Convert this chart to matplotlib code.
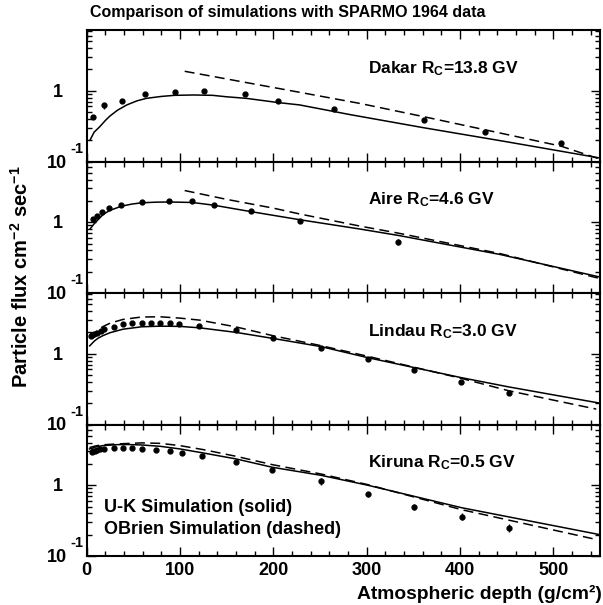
import matplotlib
matplotlib.use("Agg")
import matplotlib.pyplot as plt
from matplotlib.ticker import MultipleLocator, FixedLocator, LogLocator, NullFormatter

plt.rcParams['font.family'] = ['Liberation Sans', 'DejaVu Sans']
plt.rcParams['font.weight'] = 'bold'
plt.rcParams['mathtext.fontset'] = 'custom'
plt.rcParams['mathtext.rm'] = 'Liberation Sans:bold'
plt.rcParams['mathtext.bf'] = 'Liberation Sans:bold'
plt.rcParams['mathtext.it'] = 'Liberation Sans:bold'
plt.rcParams['mathtext.default'] = 'bf'

# --- SPARMO 1964 data points (depth g/cm2, flux) ---
depth_dakar = [7, 19, 38, 62, 95, 126, 170, 205, 265, 361, 427, 508]
flux_dakar = [0.43, 0.62, 0.72, 0.90, 0.96, 1.00, 0.91, 0.71, 0.56, 0.39, 0.26, 0.18]
err_dakar = [0.03, 0.06, 0.03, 0.03, 0.03, 0.03, 0.03, 0.03, 0.03, 0.02, 0.015, 0.015]

depth_aire = [6.4, 10.7, 16, 24, 37, 59, 88, 113, 136, 176, 229, 334]
flux_aire = [1.11, 1.23, 1.40, 1.61, 1.77, 1.94, 1.98, 1.98, 1.77, 1.46, 1.05, 0.53]
err_aire = [0.04, 0.04, 0.04, 0.04, 0.05, 0.05, 0.05, 0.05, 0.05, 0.05, 0.07, 0.05]

depth_lindau = [4.3, 6, 8, 11, 15, 19, 29, 39, 49, 59, 69, 79, 89, 99, 120, 160, 200, 251, 301, 351, 401, 452]
flux_lindau = [1.77, 1.81, 1.87, 1.95, 2.10, 2.20, 2.39, 2.59, 2.70, 2.72, 2.72, 2.72, 2.70, 2.64,
               2.43, 2.13, 1.69, 1.20, 0.85, 0.58, 0.40, 0.28]
err_lindau = [0.05] * 14 + [0.06, 0.07, 0.06, 0.05, 0.04, 0.03, 0.03, 0.02]

depth_kiruna = [5.3, 7, 9, 11, 14.3, 19, 29, 39, 49, 59, 74, 89, 102.5, 124, 160, 199, 251, 301, 351, 402, 452]
flux_kiruna = [2.98, 3.00, 3.08, 3.15, 3.21, 3.28, 3.31, 3.31, 3.31, 3.28, 3.15, 3.00, 2.88, 2.61,
               2.15, 1.66, 1.13, 0.75, 0.49, 0.36, 0.25]
err_kiruna = [0.08] * 14 + [0.08, 0.08, 0.12, 0.06, 0.05, 0.04, 0.03]

# --- U-K simulation (solid) ---
uk_depth_dakar = [3.5, 8, 14, 20, 25, 33, 43, 54, 64, 80, 94, 115, 135, 150, 171, 205, 228, 282, 361, 450, 550]
uk_flux_dakar = [0.20, 0.26, 0.31, 0.38, 0.44, 0.53, 0.63, 0.72, 0.78, 0.83, 0.86, 0.87, 0.86, 0.82,
                 0.78, 0.68, 0.63, 0.46, 0.30, 0.19, 0.112]
uk_depth_aire = [3.5, 8, 12, 18, 25, 37, 48, 59, 75, 88, 113, 136, 176, 229, 293, 334, 443, 550]
uk_flux_aire = [0.80, 0.95, 1.08, 1.30, 1.47, 1.68, 1.80, 1.88, 1.92, 1.93, 1.90, 1.74, 1.41, 1.08,
                0.80, 0.65, 0.35, 0.168]
uk_depth_lindau = [3.2, 8, 12, 17, 25, 39, 59, 79, 100, 121, 160, 200, 251, 301, 401, 452, 550]
uk_flux_lindau = [1.29, 1.50, 1.65, 1.79, 1.98, 2.22, 2.40, 2.45, 2.43, 2.32, 2.00, 1.64, 1.26,
                  0.88, 0.46, 0.34, 0.20]
uk_depth_kiruna = [3, 10, 17, 33, 45, 59, 79, 100, 125, 160, 199, 251, 301, 402, 550]
uk_flux_kiruna = [3.25, 3.48, 3.62, 3.74, 3.75, 3.70, 3.54, 3.25, 2.85, 2.35, 1.79, 1.38, 1.00,
                  0.48, 0.20]

# --- O'Brien simulation (dashed) ---
ob_depth_dakar = [105, 228, 293, 361, 427, 508, 550]
ob_flux_dakar = [1.88, 0.95, 0.66, 0.43, 0.28, 0.165, 0.108]
ob_depth_aire = [105, 150, 200, 229, 293, 334, 443, 550]
ob_flux_aire = [2.8, 2.1, 1.58, 1.30, 0.88, 0.70, 0.36, 0.16]
ob_depth_lindau = [3, 8, 12, 17, 25, 39, 59, 79, 100, 121, 160, 200, 251, 301, 401, 452, 546]
ob_flux_lindau = [1.69, 1.95, 2.15, 2.40, 2.70, 3.05, 3.30, 3.32, 3.18, 2.98, 2.39, 1.79, 1.30,
                  0.92, 0.45, 0.30, 0.165]
ob_depth_kiruna = [3, 10, 17, 33, 59, 79, 100, 125, 160, 199, 251, 301, 402, 547]
ob_flux_kiruna = [3.4, 3.6, 3.72, 3.83, 3.96, 3.90, 3.62, 3.18, 2.56, 1.95, 1.44, 1.02, 0.45, 0.17]

station_labels = ["Dakar R$_C$=13.8 GV", "Aire R$_C$=4.6 GV",
                  "Lindau R$_C$=3.0 GV", "Kiruna R$_C$=0.5 GV"]

panels = [
    (depth_dakar, flux_dakar, err_dakar, uk_depth_dakar, uk_flux_dakar, ob_depth_dakar, ob_flux_dakar),
    (depth_aire, flux_aire, err_aire, uk_depth_aire, uk_flux_aire, ob_depth_aire, ob_flux_aire),
    (depth_lindau, flux_lindau, err_lindau, uk_depth_lindau, uk_flux_lindau, ob_depth_lindau, ob_flux_lindau),
    (depth_kiruna, flux_kiruna, err_kiruna, uk_depth_kiruna, uk_flux_kiruna, ob_depth_kiruna, ob_flux_kiruna),
]

W, H = 603, 605
fig = plt.figure(figsize=(W / 100, H / 100), dpi=100)

x0, x1 = 86.7, 600
top = 30
ph = 131.5

for i, (d, f, e, ud, uf, od, of) in enumerate(panels):
    bottom_px = top + ph * (i + 1)
    ax = fig.add_axes([x0 / W, (H - bottom_px) / H, (x1 - x0) / W, ph / H])
    ax.set_yscale('log')
    ax.set_xlim(0, 550)
    ax.set_ylim(0.1, 7.2)

    ax.errorbar(d, f, yerr=e, fmt='o', color='black', ms=3.5, elinewidth=1, capsize=0)
    ax.plot(ud, uf, color='black', lw=1.1)
    ax.plot(od, of, color='black', lw=1.1, dashes=(6.5, 3.5))

    ax.xaxis.set_major_locator(MultipleLocator(100))
    ax.xaxis.set_minor_locator(MultipleLocator(20))
    ax.yaxis.set_major_locator(FixedLocator([0.1, 1]))
    ax.yaxis.set_minor_locator(LogLocator(subs=[2, 3, 4, 5, 6, 7, 8, 9]))
    ax.yaxis.set_major_formatter(NullFormatter())
    ax.yaxis.set_minor_formatter(NullFormatter())
    ax.tick_params(which='both', direction='in', top=True, right=True, width=1)
    ax.tick_params(which='major', length=6.5)
    ax.tick_params(which='minor', length=3.6)
    for s in ax.spines.values():
        s.set_linewidth(1.5)

    if i < 3:
        ax.xaxis.set_major_formatter(NullFormatter())
    else:
        ax.tick_params(axis='x', which='major', labelsize=13, pad=4)

    # ROOT style log labels
    ax.annotate("1", xy=(0, 1), xycoords=('axes fraction', 'data'), xytext=(-23.5, -6),
                textcoords='offset pixels', ha='right', va='baseline', fontsize=13)
    ax.annotate("10", xy=(0, 0.1), xycoords=('axes fraction', 'data'), xytext=(-19.5, -6),
                textcoords='offset pixels', ha='right', va='baseline', fontsize=13)
    ax.annotate("-1", xy=(0, 0.1), xycoords=('axes fraction', 'data'), xytext=(-3.5, 9),
                textcoords='offset pixels', ha='right', va='baseline', fontsize=10.5)

    ax.annotate(station_labels[i], xy=(0.548, 1), xycoords='axes fraction', xytext=(0, -43),
                textcoords='offset pixels', ha='left', va='baseline', fontsize=12.5)

    if i == 3:
        ax.annotate("U-K Simulation (solid)", xy=(0.034, 1), xycoords='axes fraction',
                    xytext=(0, -88), textcoords='offset pixels', ha='left', va='baseline', fontsize=13)
        ax.annotate("OBrien Simulation (dashed)", xy=(0.034, 1), xycoords='axes fraction',
                    xytext=(0, -110), textcoords='offset pixels', ha='left', va='baseline', fontsize=13)

fig.text(288 / W, 1 - 12 / H, "Comparison of simulations with SPARMO 1964 data",
         ha='center', va='center', fontsize=11.5)
fig.text(602 / W, 6 / H, "Atmospheric depth (g/cm²)", ha='right', va='baseline', fontsize=13.9)
fig.text(21 / W, 1 - 277 / H, "Particle flux cm$^{-2}$ sec$^{-1}$", rotation=90,
         ha='center', va='center', fontsize=14.5)

fig.savefig("out.png", dpi=100)
